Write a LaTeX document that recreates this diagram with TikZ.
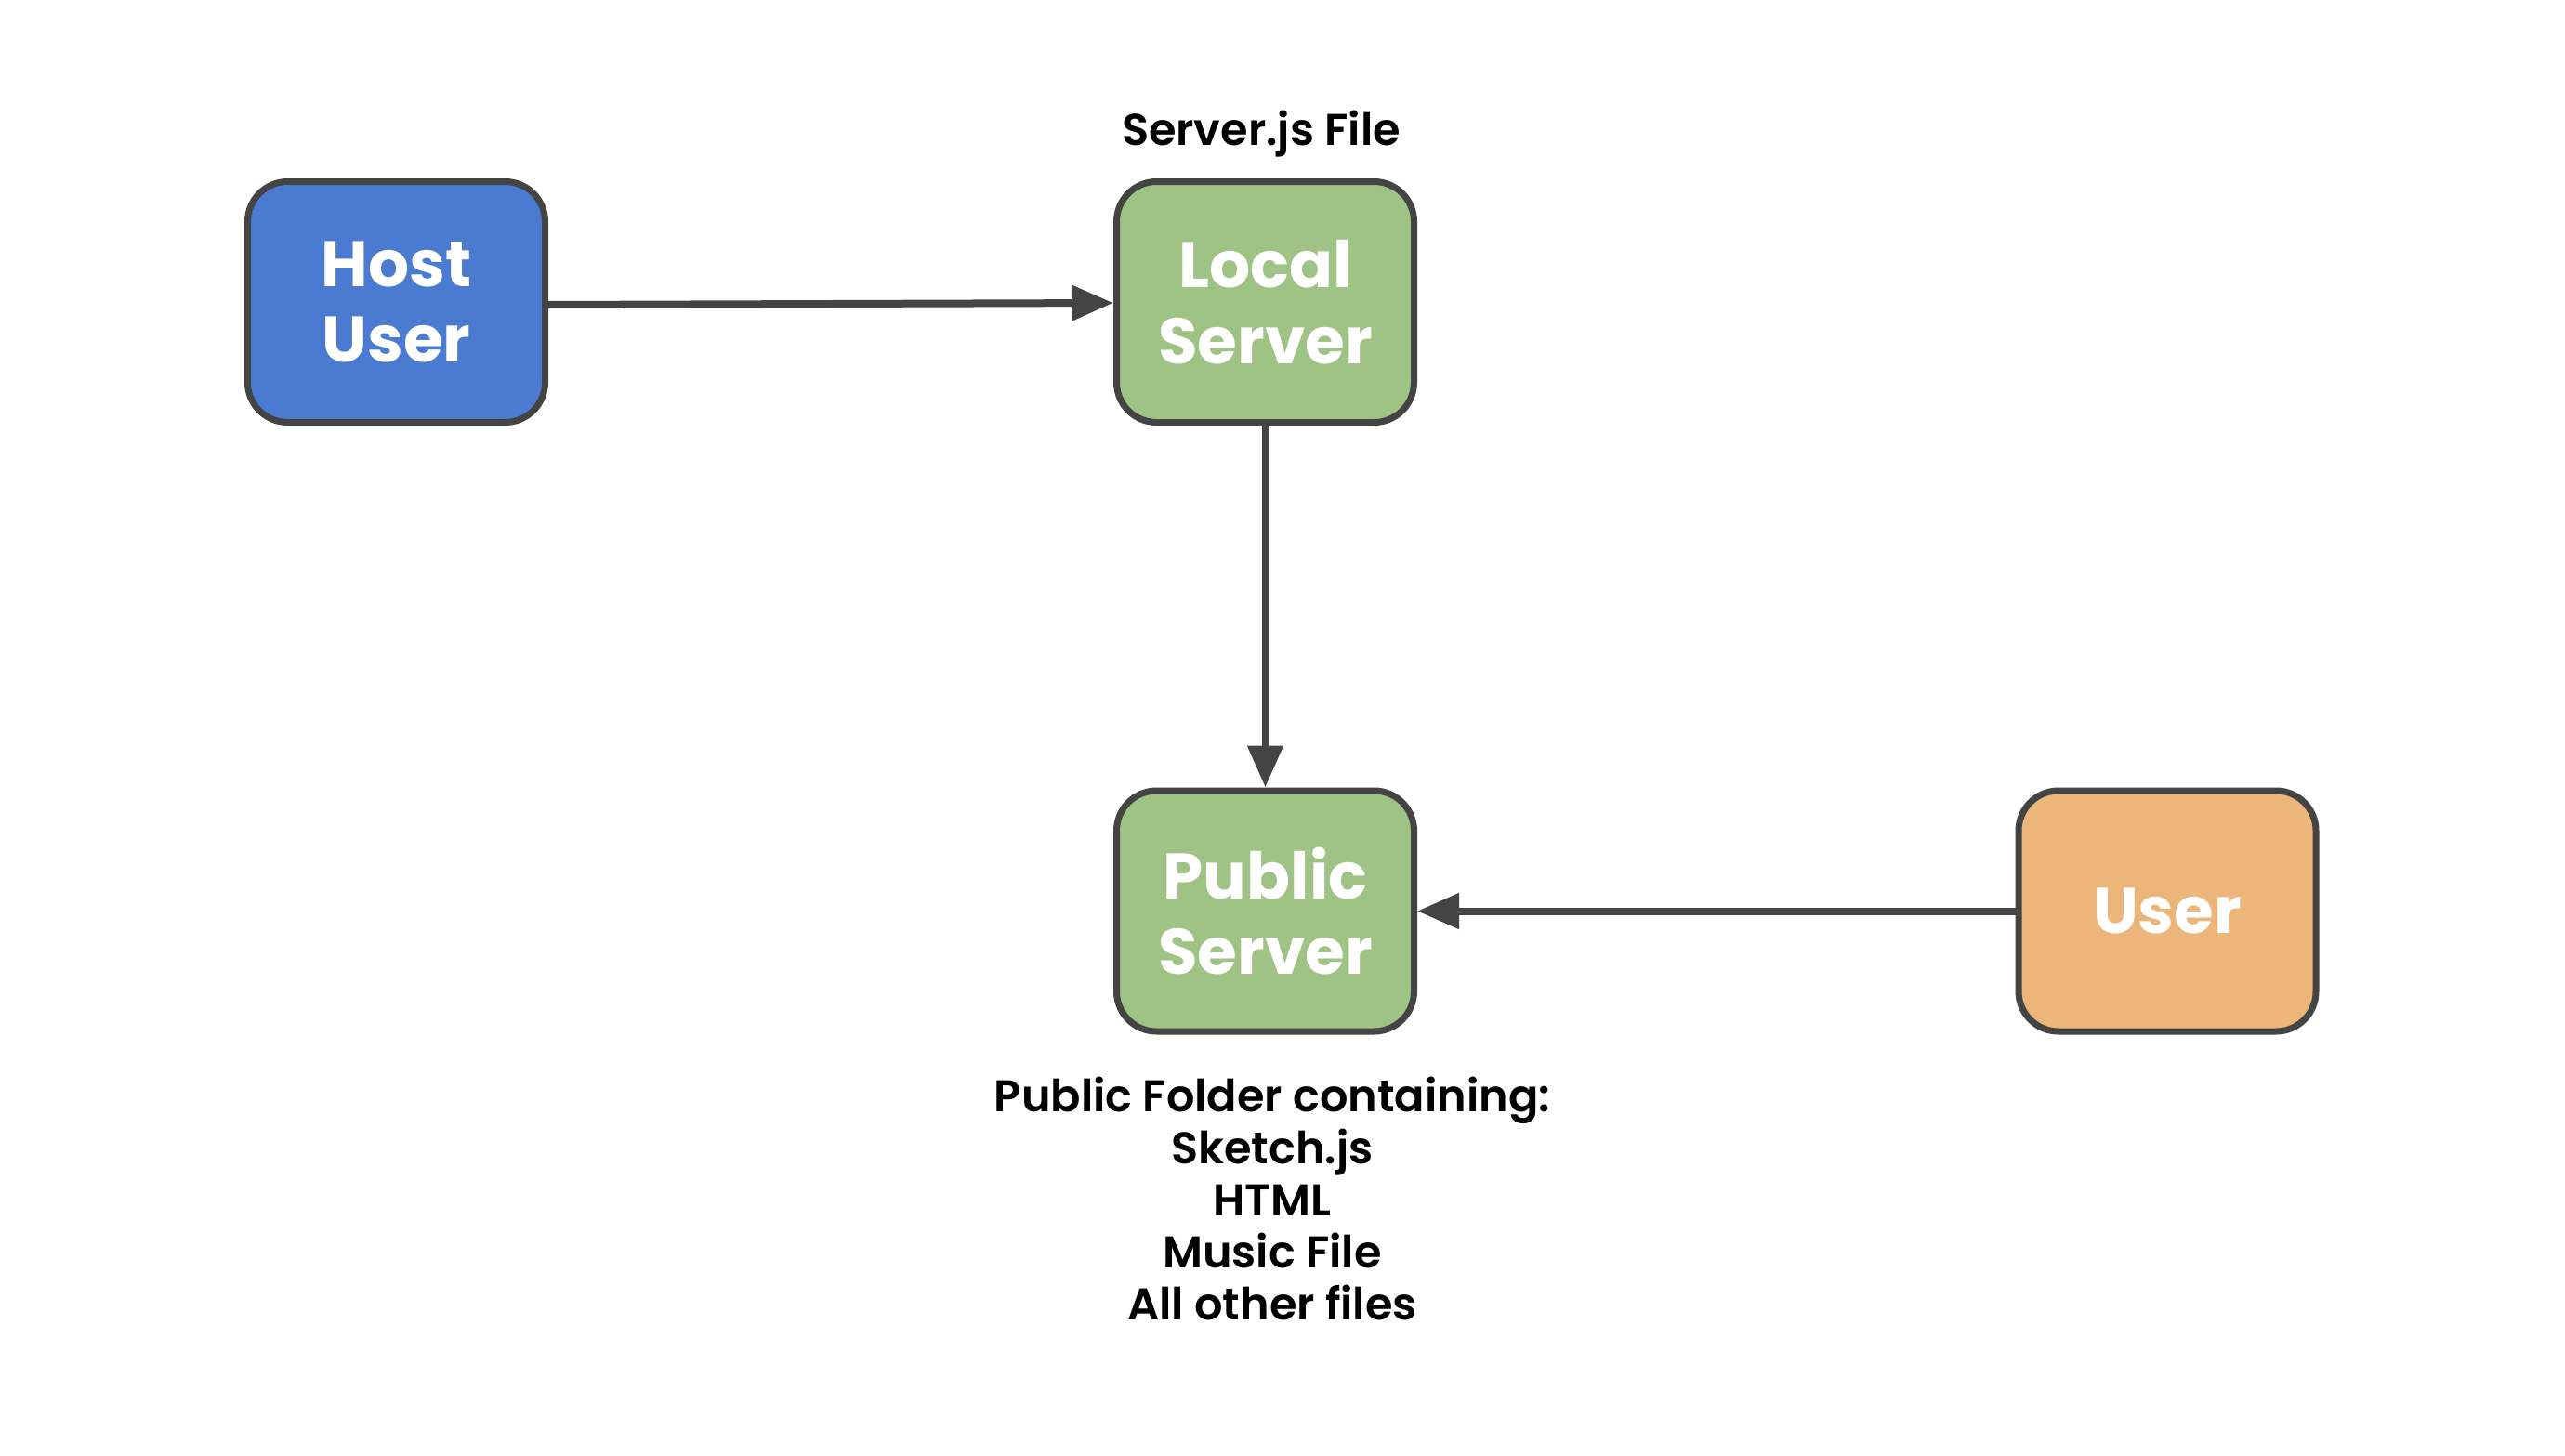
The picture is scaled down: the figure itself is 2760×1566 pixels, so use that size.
\documentclass[tikz,border=0pt]{standalone}
\usepackage{fontspec}
\setmainfont{Poppins}[FontFace={sb}{n}{Font=* SemiBold}]
\usetikzlibrary{arrows.meta}
\definecolor{hostblue}{HTML}{4A7BD0}
\definecolor{srvgreen}{HTML}{9FC385}
\definecolor{usrorange}{HTML}{ECB57A}
\definecolor{edgegray}{HTML}{444444}
\tikzset{
  box/.style={draw=edgegray, line width=0.7mm, rounded corners=4.3mm,
    minimum width=32mm, minimum height=25.9mm, align=center,
    text=white, font=\fontsize{19.7}{23.3}\selectfont\bfseries, inner sep=0pt},
  conn/.style={draw=edgegray, line width=0.8mm,
    -{Triangle[length=4.5mm, width=3.7mm]}},
  lbl/.style={align=center, font=\fontsize{13.6}{15.95}\selectfont\fontseries{sb}\selectfont, text=black, inner sep=0pt}
}
\begin{document}
\begin{tikzpicture}[x=0.1mm, y=-0.1mm]
\useasboundingbox (0,0) rectangle (2760,1566);
\node[box, fill=hostblue] (host) at (426.5,325) {Host\\User};
\node[box, fill=srvgreen] (local) at (1361.5,325) {Local\\Server};
\node[box, fill=srvgreen] (public) at (1361.5,980.5) {Public\\Server};
\node[box, fill=usrorange] (user) at (2332,980.5) {User};
\node[lbl, anchor=base] (srvlbl) at (1357,156) {Server.js File};
\node[lbl] (publbl) at (1369,1290) {Public Folder containing:\\Sketch.js\\HTML\\Music File\\All other files};
\draw[conn] ([yshift=-0.3mm]host.east) -- ([yshift=-0.1mm]local.west);
\draw[conn] (local) -- (public);
\draw[conn] (user) -- (public);
\end{tikzpicture}
\end{document}
